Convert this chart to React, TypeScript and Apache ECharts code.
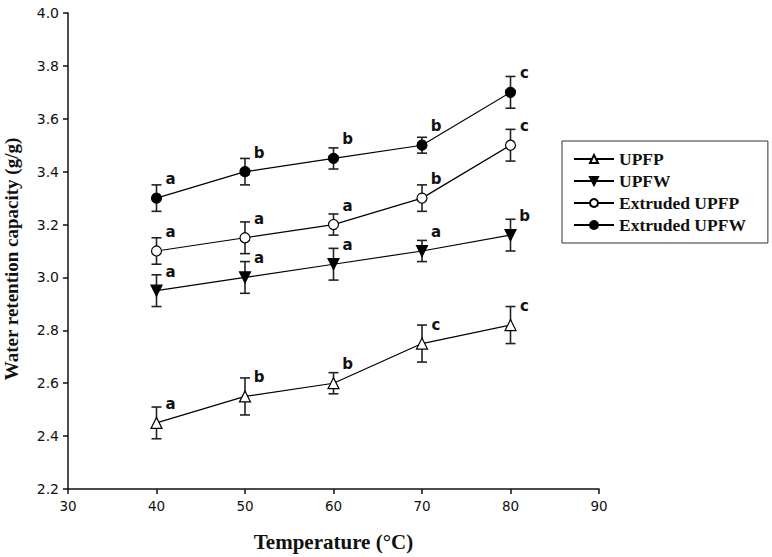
import React, { useEffect, useRef } from "react";
import * as echarts from "echarts";

const temperatures = [40, 50, 60, 70, 80];
const seriesNames = ["UPFP", "UPFW", "Extruded UPFP", "Extruded UPFW"];
const upfp = [2.45, 2.55, 2.6, 2.75, 2.82];
const upfpErr = [0.06, 0.07, 0.04, 0.07, 0.07];
const upfpLetters = ["a", "b", "b", "c", "c"];
const upfw = [2.95, 3.0, 3.05, 3.1, 3.16];
const upfwErr = [0.06, 0.06, 0.06, 0.04, 0.06];
const upfwLetters = ["a", "a", "a", "a", "b"];
const extUpfp = [3.1, 3.15, 3.2, 3.3, 3.5];
const extUpfpErr = [0.05, 0.06, 0.04, 0.05, 0.06];
const extUpfpLetters = ["a", "a", "a", "b", "c"];
const extUpfw = [3.3, 3.4, 3.45, 3.5, 3.7];
const extUpfwErr = [0.05, 0.05, 0.04, 0.03, 0.06];
const extUpfwLetters = ["a", "b", "b", "b", "c"];
const xTicks = [30, 40, 50, 60, 70, 80, 90];
const yTicks = [2.2, 2.4, 2.6, 2.8, 3.0, 3.2, 3.4, 3.6, 3.8, 4.0];

const values = [upfp, upfw, extUpfp, extUpfw];
const errors = [upfpErr, upfwErr, extUpfpErr, extUpfwErr];
const letters = [upfpLetters, upfwLetters, extUpfpLetters, extUpfwLetters];
const symbols = [
  "triangle",
  "path://M0,0 L10,0 L5,9 Z",
  "circle",
  "circle",
];
const fills = ["#ffffff", "#000000", "#ffffff", "#000000"];
const sizes = [11, 11, 10, 10];

export default function App() {
  const ref = useRef<HTMLDivElement>(null);
  useEffect(() => {
    if (!ref.current) return;
    const chart = echarts.init(ref.current, undefined, { renderer: "svg" });

    const lineSeries = seriesNames.map((name, si) => ({
      name,
      type: "line",
      data: temperatures.map((t, i) => [t, values[si][i]]),
      symbol: symbols[si],
      symbolSize: sizes[si],
      z: 5,
      lineStyle: { color: "#000", width: 1.2 },
      itemStyle: { color: fills[si], borderColor: "#000", borderWidth: 1.2 },
      label: {
        show: true,
        position: "inside",
        offset: [14, -19],
        formatter: (p: any) => letters[si][p.dataIndex],
        fontFamily: "DejaVu Sans",
        fontWeight: "bold",
        fontSize: 15,
        color: "#111",
      },
      emphasis: { disabled: true },
    }));

    const errSeries = seriesNames.map((name, si) => ({
      name: name + " err",
      type: "custom",
      z: 3,
      silent: true,
      data: temperatures.map((t, i) => [
        t,
        values[si][i] - errors[si][i],
        values[si][i] + errors[si][i],
      ]),
      renderItem: (params: any, api: any) => {
        const x = api.value(0);
        const lo = api.coord([x, api.value(1)]);
        const hi = api.coord([x, api.value(2)]);
        const hw = 5;
        const style = { stroke: "#222", lineWidth: 1.6 };
        return {
          type: "group",
          children: [
            { type: "line", shape: { x1: lo[0], y1: lo[1], x2: hi[0], y2: hi[1] }, style },
            { type: "line", shape: { x1: lo[0] - hw, y1: lo[1], x2: lo[0] + hw, y2: lo[1] }, style },
            { type: "line", shape: { x1: hi[0] - hw, y1: hi[1], x2: hi[0] + hw, y2: hi[1] }, style },
          ],
        };
      },
    }));

    chart.setOption({
      animation: false,
      backgroundColor: "#fff",
      grid: { left: 68, top: 13, right: 173, bottom: 68, containLabel: false, outerBoundsMode: "none" },
      legend: {
        data: seriesNames,
        orient: "vertical",
        left: 562,
        top: 141,
        itemWidth: 40,
        itemHeight: 10,
        itemGap: 4,
        padding: [9, 22, 9, 11],
        borderColor: "#333",
        borderWidth: 1,
        textStyle: {
          fontFamily: "Liberation Serif",
          fontWeight: "bold",
          fontSize: 17.5,
          color: "#111",
        },
      },
      xAxis: {
        type: "value",
        min: xTicks[0],
        max: xTicks[xTicks.length - 1],
        interval: 10,
        name: "Temperature (°C)",
        nameLocation: "middle",
        nameGap: 42,
        nameTextStyle: {
          fontFamily: "Liberation Serif",
          fontWeight: "bold",
          fontSize: 21,
          color: "#111",
        },
        splitLine: { show: false },
        axisLine: { lineStyle: { color: "#111", width: 1.5 } },
        axisTick: { show: true, length: 5, lineStyle: { color: "#111", width: 1.5 } },
        axisLabel: { fontFamily: "DejaVu Sans", fontSize: 13.5, color: "#111", margin: 10 },
      },
      yAxis: {
        type: "value",
        min: yTicks[0],
        max: yTicks[yTicks.length - 1],
        interval: 0.2,
        name: "Water retention capacity (g/g)",
        nameLocation: "middle",
        nameGap: 47,
        nameTextStyle: {
          fontFamily: "Liberation Serif",
          fontWeight: "bold",
          fontSize: 19,
          color: "#111",
          padding: [0, 16, 0, 0],
        },
        splitLine: { show: false },
        axisLine: { show: true, lineStyle: { color: "#111", width: 1.5 } },
        axisTick: { show: true, length: 5, lineStyle: { color: "#111", width: 1.5 } },
        axisLabel: {
          fontFamily: "DejaVu Sans",
          fontSize: 14,
          color: "#111",
          margin: 9,
          formatter: (v: number) => v.toFixed(1),
        },
      },
      series: [...errSeries, ...lineSeries],
    });
    return () => chart.dispose();
  }, []);
  return (
    <div
      ref={ref}
      style={{ position: "fixed", left: 0, top: 0, width: 772, height: 557, background: "#fff" }}
    />
  );
}
